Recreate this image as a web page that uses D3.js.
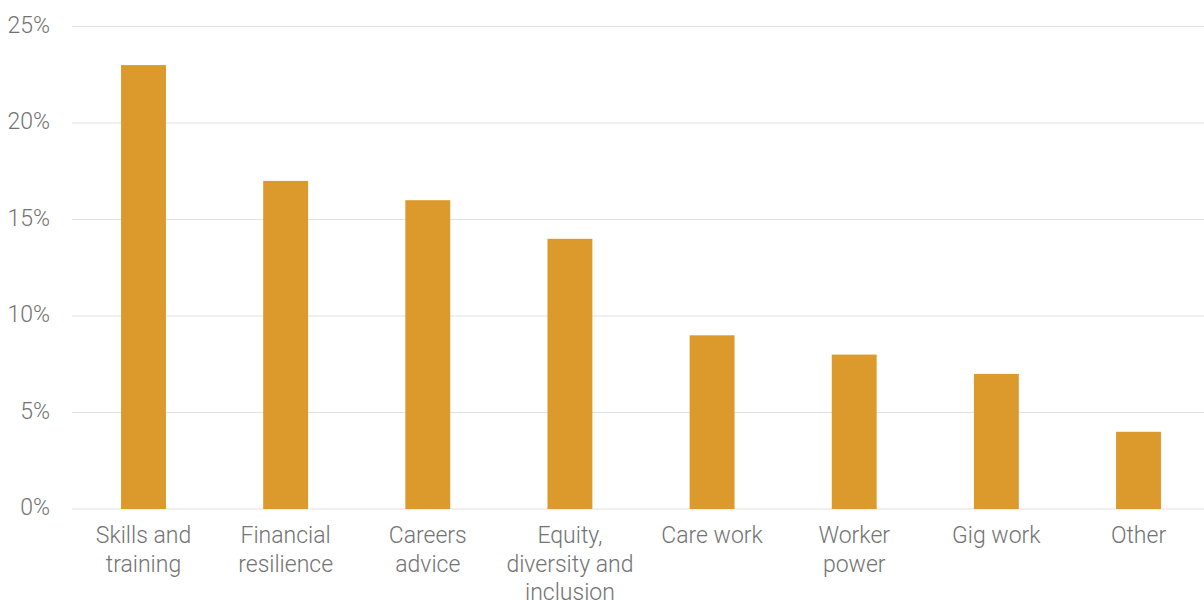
<!DOCTYPE html>
<html>
<head>
<meta charset="utf-8">
<script src="https://cdn.jsdelivr.net/npm/d3@7"></script>
<style>
  body { margin: 0; background: #fff; }
  text { font-family: Roboto, "Noto Sans", sans-serif; font-weight: 300; fill: #737373; }
</style>
</head>
<body>
<svg id="chart"></svg>
<script>
// Data
var categories = ["Skills and\ntraining", "Financial\nresilience", "Careers\nadvice",
  "Equity,\ndiversity and\ninclusion", "Care work", "Worker\npower", "Gig work", "Other"];
var shares = [23, 17, 16, 14, 9, 8, 7, 4];
var yTicks = [0, 5, 10, 15, 20, 25];

var width = 1204, height = 602;
var svg = d3.select('#chart').attr('width', width).attr('height', height);

var x = d3.scaleBand()
  .domain(categories)
  .range([72, 1210])
  .paddingInner(0.684)
  .paddingOuter(0.345);

var y = d3.scaleLinear().domain([0, 25]).range([509, 26.5]);

// gridlines
svg.append('g').selectAll('line').data(yTicks).enter().append('line')
  .attr('x1', 72).attr('x2', width)
  .attr('y1', d => y(d)).attr('y2', d => y(d))
  .attr('stroke', '#e2e2e2').attr('stroke-width', 1.2);

// y tick labels
svg.append('g').selectAll('text').data(yTicks).enter().append('text')
  .attr('x', 50).attr('y', d => y(d) + 6)
  .attr('text-anchor', 'end')
  .style('font-size', '23px')
  .text(d => d + '%');

// bars
svg.append('g').selectAll('rect').data(shares).enter().append('rect')
  .attr('x', (d, i) => x(categories[i]))
  .attr('width', x.bandwidth())
  .attr('y', d => y(d))
  .attr('height', d => y(0) - y(d))
  .attr('fill', '#dc9a2c');

// category labels
var lbl = svg.append('g').selectAll('text').data(categories).enter().append('text')
  .attr('text-anchor', 'middle')
  .attr('transform', d => `translate(${x(d) + x.bandwidth() / 2}, 543)`)
  .style('font-size', '23px');
lbl.each(function(d) {
  var t = d3.select(this);
  d.split('\n').forEach((line, i) => {
    t.append('tspan').attr('x', 0).attr('y', i * 28.5).text(line);
  });
});
</script>
</body>
</html>
